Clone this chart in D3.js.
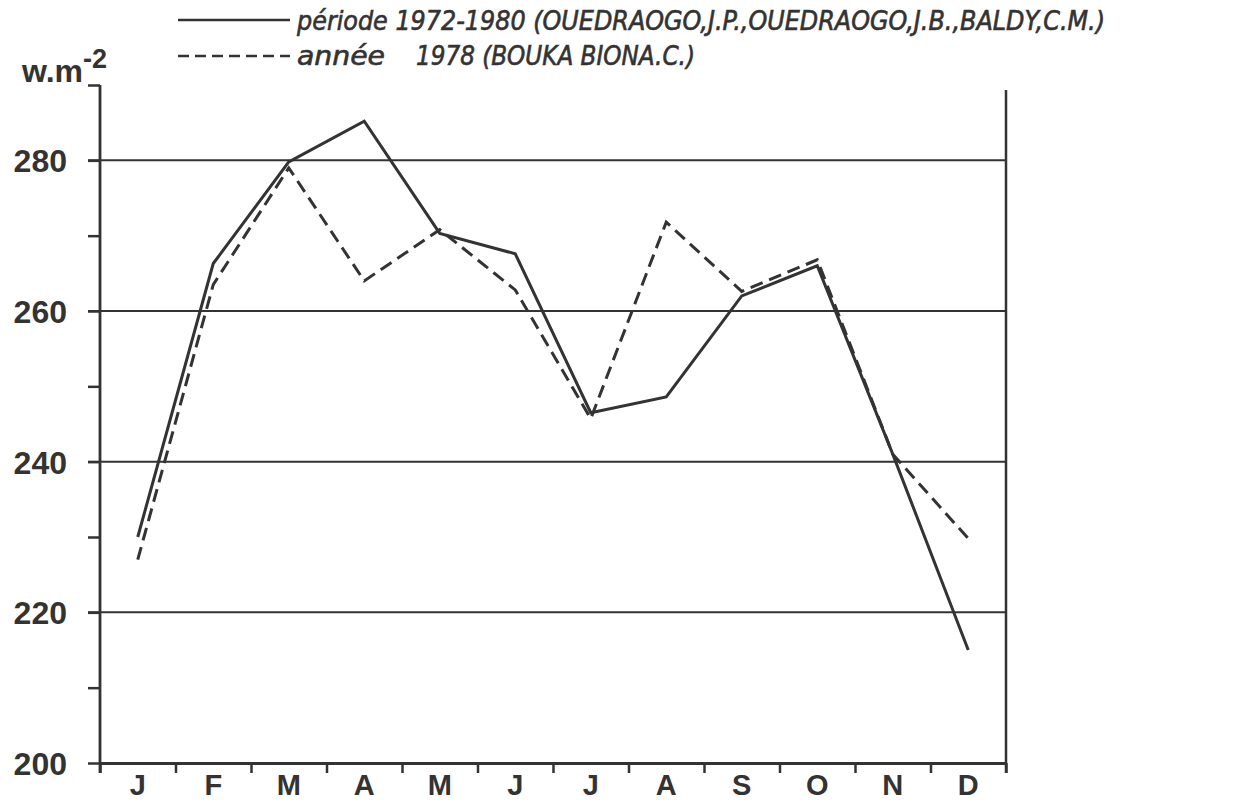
<!DOCTYPE html>
<html>
<head>
<meta charset="utf-8">
<script src="https://cdn.jsdelivr.net/npm/d3@7"></script>
<style>
  body { margin: 0; background: #fff; }
  .lbl { font-family: "Liberation Sans", Arial, sans-serif; font-weight: bold; fill: #333; }
  .leg { font-family: "DejaVu Sans Condensed", "DejaVu Sans", sans-serif; font-style: italic; fill: #333; stroke: #333; stroke-width: 0.6px; }
</style>
</head>
<body>
<div id="chart"></div>
<script>
var width = 1235;
var height = 803;

// data
var months = ["J", "F", "M", "A", "M", "J", "J", "A", "S", "O", "N", "D"];
var periode = [230, 266.3, 279.8, 285.2, 270.3, 267.6, 246.5, 248.6, 262, 266, 241, 215];
var annee1978 = [227, 263.5, 279, 264, 270.8, 262.8, 245.7, 271.8, 262.6, 266.8, 241, 229.8];
var yTicks = [200, 220, 240, 260, 280];
var yMinor = [210, 230, 250, 270, 290];

var ink = "#333";

var svg = d3.select("#chart")
  .append("svg")
  .attr("width", width)
  .attr("height", height);

var x = d3.scaleLinear().domain([0, 12]).range([100, 1006]);
var y = d3.scaleLinear().domain([200, 290]).range([763, 85]);

//gridlines
svg.append("g")
  .selectAll("line")
  .data(yTicks.slice(1))
  .enter().append("line")
  .attr("x1", 88).attr("x2", x(12))
  .attr("y1", function(d) { return y(d); })
  .attr("y2", function(d) { return y(d); })
  .attr("stroke", ink)
  .attr("stroke-width", 2);

//left axis with major ticks + labels
var yAxis = d3.axisLeft(y)
  .tickValues(yTicks)
  .tickSize(12)
  .tickPadding(21);

var gy = svg.append("g")
  .attr("transform", "translate(" + x(0) + ",0)")
  .call(yAxis);
gy.select(".domain").remove();
gy.selectAll(".tick line").attr("stroke", ink).attr("stroke-width", 2.5);
gy.selectAll(".tick text")
  .attr("class", "lbl")
  .style("font-size", "32px")
  .attr("dy", "0.36em");

//minor ticks
var gyMinor = svg.append("g")
  .attr("transform", "translate(" + x(0) + ",0)")
  .call(d3.axisLeft(y).tickValues(yMinor).tickSize(12).tickFormat(""));
gyMinor.select(".domain").remove();
gyMinor.selectAll(".tick line").attr("stroke", ink).attr("stroke-width", 2.5);

//axis frame
svg.append("line")
  .attr("x1", x(0)).attr("x2", x(0))
  .attr("y1", y(290)).attr("y2", y(200) + 10)
  .attr("stroke", ink).attr("stroke-width", 2.8);
svg.append("line")
  .attr("x1", x(12)).attr("x2", x(12))
  .attr("y1", 90).attr("y2", y(200) + 10)
  .attr("stroke", ink).attr("stroke-width", 2.5);

//bottom axis, ticks at month boundaries
var xAxis = d3.axisBottom(x)
  .tickValues(d3.range(0, 13))
  .tickSize(10)
  .tickSizeOuter(0)
  .tickFormat("");
var gx = svg.append("g")
  .attr("transform", "translate(0," + y(200) + ")")
  .call(xAxis);
gx.select(".domain").attr("stroke", ink).attr("stroke-width", 3);
gx.selectAll(".tick line").attr("stroke", ink).attr("stroke-width", 2.5);

//month labels
svg.append("g")
  .selectAll("text")
  .data(months)
  .enter().append("text")
  .attr("class", "lbl")
  .attr("x", function(d, i) { return x(i + 0.5); })
  .attr("y", 795)
  .attr("text-anchor", "middle")
  .style("font-size", "29px")
  .text(function(d) { return d; });

//unit label
var unit = svg.append("text")
  .attr("class", "lbl")
  .attr("x", 22)
  .attr("y", 82)
  .style("font-size", "32px");
unit.append("tspan").text("w.m");
unit.append("tspan").attr("dy", -14).style("font-size", "27px").text("-2");

//the two series
var line = d3.line()
  .x(function(d, i) { return x(i + 0.5); })
  .y(function(d) { return y(d); });

svg.append("path")
  .datum(annee1978)
  .attr("d", line)
  .attr("fill", "none")
  .attr("stroke", ink)
  .attr("stroke-width", 3)
  .attr("stroke-dasharray", "13,7");

svg.append("path")
  .datum(periode)
  .attr("d", line)
  .attr("fill", "none")
  .attr("stroke", ink)
  .attr("stroke-width", 3);

//legend
svg.append("line")
  .attr("x1", 178).attr("x2", 290)
  .attr("y1", 20).attr("y2", 20)
  .attr("stroke", ink).attr("stroke-width", 2.5);
svg.append("text")
  .attr("class", "leg")
  .attr("x", 297).attr("y", 30)
  .attr("textLength", 808)
  .attr("lengthAdjust", "spacingAndGlyphs")
  .style("font-size", "27px")
  .text("période 1972-1980 (OUEDRAOGO,J.P.,OUEDRAOGO,J.B.,BALDY,C.M.)");

svg.append("line")
  .attr("x1", 178).attr("x2", 290)
  .attr("y1", 56).attr("y2", 56)
  .attr("stroke", ink).attr("stroke-width", 2.5)
  .attr("stroke-dasharray", "11,6");
svg.append("text")
  .attr("class", "leg")
  .attr("x", 297).attr("y", 65)
  .attr("textLength", 88)
  .attr("lengthAdjust", "spacingAndGlyphs")
  .style("font-size", "27px")
  .text("année");
svg.append("text")
  .attr("class", "leg")
  .attr("x", 416).attr("y", 65)
  .attr("textLength", 279)
  .attr("lengthAdjust", "spacingAndGlyphs")
  .style("font-size", "27px")
  .text("1978 (BOUKA BIONA.C.)");
</script>
</body>
</html>
